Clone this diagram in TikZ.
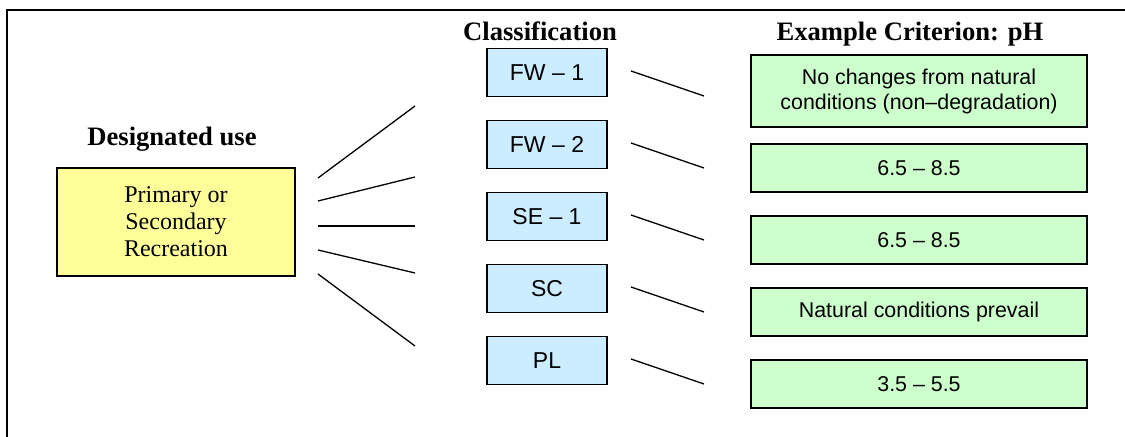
\documentclass[tikz,border=0pt]{standalone}
\usepackage{fontspec}
\setmainfont{Liberation Serif}
\setsansfont{Liberation Sans}
\definecolor{useyellow}{HTML}{FFFF99}
\definecolor{classblue}{HTML}{CCECFF}
\definecolor{critgreen}{HTML}{CCFFCC}

\begin{document}
\begin{tikzpicture}[x=0.5pt, y=-0.5pt,
    heading/.style={anchor=base, font=\fontsize{13.3}{15}\selectfont\bfseries},
    usebox/.style={draw, line width=0.75pt, fill=useyellow, inner sep=0pt,
        minimum width=119pt, minimum height=54pt, align=center,
        font=\fontsize{12}{13.5}\selectfont},
    classbox/.style={draw, line width=0.75pt, fill=classblue, inner sep=0pt,
        minimum width=60pt, minimum height=24pt, font=\sffamily\fontsize{11.5}{13}\selectfont},
    critbox/.style={draw, line width=0.75pt, fill=critgreen, inner sep=0pt,
        minimum width=168pt, minimum height=24pt, align=center,
        font=\sffamily\fontsize{10.7}{12.5}\selectfont},
    link/.style={line width=0.65pt}]
        \useasboundingbox (0,0) rectangle (1125,437);
        % frame (cut off at right and bottom)
        \draw[line width=1pt] (7,437) -- (7,10) -- (1125,10);

        % column headings
        \node[heading] (usehead) at (172,146) {Designated use};
        \node[heading] (classhead) at (540,41) {Classification};
        \node[heading] (crithead) at (910,41) {Example Criterion: pH};

        % designated use
        \node[usebox] (use) at (176,222) {Primary or\\Secondary\\Recreation};

        % classifications
        \node[classbox] (fw1) at (547,72.5) {FW -- 1};
        \node[classbox] (fw2) at (547,144.5) {FW -- 2};
        \node[classbox] (se1) at (547,216.5) {SE -- 1};
        \node[classbox] (sc) at (547,288.5) {SC};
        \node[classbox] (pl) at (547,360.5) {PL};

        % criteria
        \node[critbox, minimum height=36pt] (ph1) at (919,91)
            {No changes from natural\\conditions (non--degradation)};
        \node[critbox] (ph2) at (919,168) {6.5 -- 8.5};
        \node[critbox] (ph3) at (919,240) {6.5 -- 8.5};
        \node[critbox] (ph4) at (919,312) {Natural conditions prevail};
        \node[critbox] (ph5) at (919,384) {3.5 -- 5.5};

        % fan from designated use to classifications
        \coordinate (u1) at (318,178); \coordinate (c1) at (415,106);
        \coordinate (u2) at (318,201); \coordinate (c2) at (415,177);
        \coordinate (u3) at (318,226); \coordinate (c3) at (415,226);
        \coordinate (u4) at (318,250); \coordinate (c4) at (415,273);
        \coordinate (u5) at (318,274); \coordinate (c5) at (415,346);
        \draw[link] (u1) -- (c1);
        \draw[link] (u2) -- (c2);
        \draw[link] (u3) -- (c3);
        \draw[link] (u4) -- (c4);
        \draw[link] (u5) -- (c5);

        % classifications to criteria
        \coordinate (k1) at (631,71);  \coordinate (p1) at (704,96);
        \coordinate (k2) at (631,143); \coordinate (p2) at (704,168);
        \coordinate (k3) at (631,215); \coordinate (p3) at (704,240);
        \coordinate (k4) at (631,287); \coordinate (p4) at (704,312);
        \coordinate (k5) at (631,359); \coordinate (p5) at (704,384);
        \draw[link] (k1) -- (p1);
        \draw[link] (k2) -- (p2);
        \draw[link] (k3) -- (p3);
        \draw[link] (k4) -- (p4);
        \draw[link] (k5) -- (p5);
    \end{tikzpicture}
\end{document}
